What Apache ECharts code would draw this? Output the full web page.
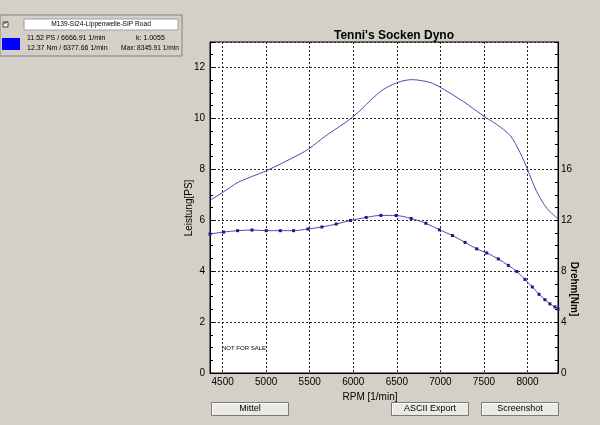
<!DOCTYPE html>
<html><head><meta charset="utf-8">
<script src="https://cdn.jsdelivr.net/npm/echarts@6/dist/echarts.min.js"></script>
<style>html,body{margin:0;padding:0;background:#d4d0c8}#c{width:600px;height:425px}</style>
</head><body><div id="c"></div>
<script>
// RPM ticks
const xTicks = [4500, 5000, 5500, 6000, 6500, 7000, 7500, 8000];
// Power curve (Leistung, PS)
const powerRpm = [4355, 4500, 4684, 5000, 5372, 5500, 5678, 6000, 6309, 6500, 6667, 6730, 6881, 7000, 7264, 7500, 7647, 7800, 7914, 8000, 8105, 8220, 8350];
const powerPS  = [6.78, 7.09, 7.50, 7.94, 8.57, 8.83, 9.30, 10.07, 11.05, 11.40, 11.52, 11.51, 11.41, 11.22, 10.66, 10.08, 9.76, 9.33, 8.66, 8.00, 7.13, 6.48, 6.05];
// Torque curve (Drehmoment, Nm)
const torqueRpm = [4355, 4511, 4672, 4837, 5001, 5162, 5314, 5479, 5640, 5804, 5968, 6148, 6317, 6492, 6664, 6833, 6989, 7138, 7283, 7417, 7532, 7665, 7780, 7876, 7971, 8055, 8132, 8200, 8257, 8315, 8350];
const torqueNm  = [10.92, 11.07, 11.18, 11.23, 11.18, 11.18, 11.18, 11.31, 11.47, 11.70, 11.98, 12.22, 12.38, 12.37, 12.14, 11.76, 11.25, 10.80, 10.26, 9.75, 9.43, 8.96, 8.45, 7.98, 7.35, 6.76, 6.18, 5.76, 5.43, 5.19, 5.02];

const F = 'Liberation Sans, Arial, sans-serif';
const chart = echarts.init(document.getElementById('c'), null, {renderer: 'canvas'});

function button(x, y, w, h, label) {
  return {type: 'group', left: x, top: y, children: [
    {type: 'rect', shape: {x: 0, y: 0, width: w, height: h}, style: {fill: '#ebe9e6', stroke: '#7a7a7a', lineWidth: 1}},
    {type: 'polyline', shape: {points: [[1, h - 1], [1, 1], [w - 1, 1]]}, style: {stroke: '#ffffff', lineWidth: 1, fill: null}},
    {type: 'text', x: w / 2, y: h / 2, style: {text: label, font: '9px ' + F, fill: '#000', align: 'center', verticalAlign: 'middle'}}
  ]};
}

const option = {
  backgroundColor: '#d4d0c8',
  animation: false,
  title: {text: "Tenni's Socken Dyno", left: 389, top: 25, textAlign: 'center',
    textStyle: {fontFamily: F, fontSize: 12, fontWeight: 'bold', color: '#000'}},
  grid: {left: 210, right: 42, top: 42, bottom: 52, show: true, backgroundColor: '#fff', borderColor: '#000', borderWidth: 1, containLabel: false},
  xAxis: {type: 'value', min: 4355, max: 8350,
    name: 'RPM [1/min]', nameLocation: 'middle', nameGap: 15,
    nameTextStyle: {fontFamily: F, fontSize: 10, color: '#000', padding: [0, 28, 0, 0]},
    axisLine: {lineStyle: {color: '#000', width: 1}},
    axisTick: {show: false, customValues: xTicks},
    axisLabel: {fontFamily: F, fontSize: 10, color: '#000', margin: 4, customValues: xTicks, formatter: v => String(v)},
    splitLine: {show: true, lineStyle: {color: '#222', type: [2, 2], width: 1}}
  },
  yAxis: [
    {type: 'value', min: 0, max: 13, interval: 2, position: 'left',
      axisLine: {show: true, lineStyle: {color: '#000'}},
      axisTick: {show: true, inside: true, length: 4, lineStyle: {color: '#000'}},
      minorTick: {show: true, splitNumber: 4, length: 3, lineStyle: {color: '#000'}},
      axisLabel: {fontFamily: F, fontSize: 10, color: '#000', margin: 5, formatter: v => v <= 12 ? String(v) : ''},
      splitLine: {show: true, lineStyle: {color: '#222', type: [2, 2], width: 1}}
    },
    {type: 'value', min: 0, max: 26, interval: 4, position: 'right',
      axisLine: {show: true, lineStyle: {color: '#000'}},
      axisTick: {show: true, inside: true, length: 4, lineStyle: {color: '#000'}},
      minorTick: {show: true, splitNumber: 4, length: 3, lineStyle: {color: '#000'}},
      axisLabel: {fontFamily: F, fontSize: 10, color: '#000', margin: 3, formatter: v => v <= 16 ? String(v) : ''},
      splitLine: {show: false}
    }
  ],
  series: [
    {name: 'Leistung', type: 'line', yAxisIndex: 0, smooth: 0.3, showSymbol: false,
      data: powerRpm.map((r, i) => [r, powerPS[i]]),
      lineStyle: {color: '#4b4bb0', width: 1}},
    {name: 'Drehmoment', type: 'line', yAxisIndex: 1, smooth: 0.3, symbol: 'rect', symbolSize: 3, showSymbol: true,
      data: torqueRpm.map((r, i) => [r, torqueNm[i]]),
      itemStyle: {color: '#1a1a90'},
      lineStyle: {color: '#4b4bb0', width: 1}}
  ],
  graphic: [
    {type: 'text', x: 189, y: 208, rotation: Math.PI / 2,
      style: {text: 'Leistung[PS]', font: '10px ' + F, fill: '#000', align: 'center', verticalAlign: 'middle'}},
    {type: 'text', x: 574, y: 289, rotation: -Math.PI / 2,
      style: {text: 'Drehm[Nm]', font: 'bold 10px ' + F, fill: '#000', align: 'center', verticalAlign: 'middle'}},
    {type: 'text', x: 222, y: 345, style: {text: 'NOT FOR SALE', font: '6px ' + F, fill: '#000'}},
    // legend box
    {type: 'rect', shape: {x: 0, y: 15, width: 182, height: 41}, style: {fill: '#d4d0c8', stroke: '#808080', lineWidth: 1}},
    {type: 'rect', shape: {x: 3, y: 22, width: 5, height: 5}, style: {fill: '#fff', stroke: '#404040', lineWidth: 1}},
    {type: 'text', x: 3, y: 20, style: {text: '✓', font: '6px ' + F, fill: '#000'}},
    {type: 'rect', shape: {x: 24, y: 19, width: 154, height: 11}, style: {fill: '#fff', stroke: '#a0a0a0', lineWidth: 1}},
    {type: 'text', x: 101, y: 24.5, style: {text: 'M139-SI24-Lippenwelle-SIP Road', font: '6.6px ' + F, fill: '#000', align: 'center', verticalAlign: 'middle'}},
    {type: 'rect', shape: {x: 2, y: 38, width: 18, height: 12}, style: {fill: '#0000ff', stroke: null}},
    {type: 'text', x: 27, y: 38, style: {text: '11.52 PS / 6666.91 1/min', font: '7px ' + F, fill: '#000', verticalAlign: 'middle'}},
    {type: 'text', x: 136, y: 38, style: {text: 'k: 1.0055', font: '7px ' + F, fill: '#000', verticalAlign: 'middle'}},
    {type: 'text', x: 27, y: 48, style: {text: '12.37 Nm / 6377.66 1/min', font: '7px ' + F, fill: '#000', verticalAlign: 'middle'}},
    {type: 'text', x: 121, y: 48, style: {text: 'Max: 8345.91 1/min', font: '6.6px ' + F, fill: '#000', verticalAlign: 'middle'}},
    button(210, 401, 77, 13, 'Mittel'),
    button(390, 401, 77, 13, 'ASCII Export'),
    button(480, 401, 77, 13, 'Screenshot')
  ]
};
chart.setOption(option);
</script></body></html>
